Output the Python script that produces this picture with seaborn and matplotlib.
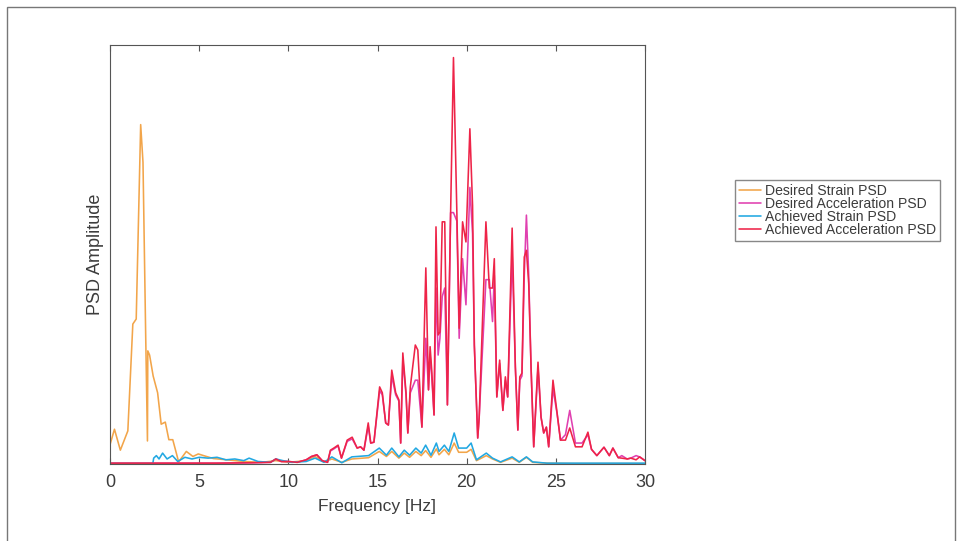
import matplotlib
matplotlib.use("Agg")
import matplotlib.pyplot as plt
from matplotlib.patches import Rectangle
import seaborn as sns

# desired strain PSD (orange)
ds_freq = [0.0, 0.25, 0.58, 1.0, 1.28, 1.47, 1.72, 1.85, 2.0, 2.1, 2.12, 2.22, 2.42, 2.67,
           2.87, 3.1, 3.3, 3.52, 3.85, 4.28, 4.65, 4.95, 5.25, 5.8, 6.55, 7.5, 8.5, 9.3,
           10.0, 11.0, 11.5, 12.0, 12.44, 13.0, 13.56, 14.5, 15.1, 15.5, 15.8, 16.2, 16.5,
           16.8, 17.15, 17.45, 17.7, 18.0, 18.3, 18.45, 18.75, 19.0, 19.3, 19.55, 20.0,
           20.25, 20.55, 21.1, 21.45, 21.9, 22.55, 22.95, 23.35, 23.7, 24.5, 26.0, 28.0, 30.0]
ds_vals = [0.046, 0.083, 0.033, 0.079, 0.334, 0.346, 0.81, 0.72, 0.31, 0.055, 0.27, 0.26,
           0.21, 0.17, 0.095, 0.10, 0.058, 0.058, 0.005, 0.03, 0.018, 0.024, 0.02, 0.013,
           0.01, 0.006, 0.004, 0.008, 0.004, 0.008, 0.018, 0.005, 0.012, 0.004, 0.012,
           0.015, 0.03, 0.018, 0.03, 0.014, 0.026, 0.016, 0.03, 0.02, 0.032, 0.016, 0.036,
           0.022, 0.035, 0.022, 0.05, 0.028, 0.028, 0.035, 0.008, 0.02, 0.012, 0.004,
           0.014, 0.004, 0.016, 0.004, 0.002, 0.001, 0.001, 0.001]

# achieved strain PSD (blue)
as_freq = [0.0, 2.4, 2.45, 2.6, 2.75, 2.95, 3.2, 3.5, 3.8, 4.2, 4.6, 5.0, 5.5, 6.0, 6.5,
           7.0, 7.5, 7.8, 8.3, 9.0, 9.3, 9.7, 10.2, 11.0, 11.5, 12.0, 12.44, 13.0, 13.56,
           14.5, 15.1, 15.5, 15.8, 16.2, 16.5, 16.8, 17.15, 17.45, 17.7, 18.0, 18.3, 18.45,
           18.75, 19.0, 19.3, 19.55, 20.0, 20.25, 20.55, 21.1, 21.45, 21.9, 22.55, 22.95,
           23.35, 23.7, 24.5, 26.0, 28.0, 30.0]
as_vals = [0.001, 0.001, 0.014, 0.02, 0.012, 0.026, 0.012, 0.02, 0.006, 0.016, 0.012,
           0.016, 0.014, 0.016, 0.01, 0.012, 0.008, 0.014, 0.006, 0.004, 0.012, 0.008,
           0.004, 0.006, 0.014, 0.004, 0.017, 0.003, 0.017, 0.02, 0.038, 0.021, 0.038,
           0.017, 0.033, 0.021, 0.038, 0.026, 0.045, 0.021, 0.05, 0.03, 0.045, 0.03, 0.074,
           0.038, 0.038, 0.05, 0.01, 0.026, 0.014, 0.005, 0.017, 0.005, 0.017, 0.005,
           0.002, 0.002, 0.002, 0.002]

# acceleration PSD, achieved (red) and desired (magenta)
acc_freq = [0, 2, 4, 6, 8, 9.0, 9.3, 9.6, 10.0, 10.5,
            11.0, 11.3, 11.6, 11.9, 12.2, 12.36, 12.55, 12.79, 12.98, 13.3,
            13.58, 13.86, 14.05, 14.24, 14.48, 14.62, 14.8, 15.12, 15.27, 15.46,
            15.61, 15.8, 16.02, 16.2, 16.3, 16.42, 16.6, 16.7, 16.84, 17.12,
            17.26, 17.49, 17.71, 17.86, 17.95, 18.04, 18.17, 18.28, 18.4, 18.5,
            18.63, 18.77, 18.92, 19.1, 19.26, 19.45, 19.58, 19.77, 19.96, 20.18,
            20.33, 20.43, 20.62, 20.7, 21.08, 21.27, 21.45, 21.55, 21.69, 21.85,
            22.03, 22.17, 22.3, 22.55, 22.73, 22.87, 22.98, 23.1, 23.23, 23.35,
            23.48, 23.61, 23.76, 24.0, 24.17, 24.32, 24.47, 24.6, 24.84, 25.07,
            25.26, 25.54, 25.78, 26.1, 26.47, 26.8, 27.0, 27.3, 27.7, 28.0,
            28.2, 28.5, 28.7, 29.0, 29.2, 29.5, 29.7, 30]
acc_achieved = [0.002, 0.002, 0.002, 0.002, 0.003, 0.004, 0.012, 0.006, 0.006, 0.004,
                0.01, 0.018, 0.022, 0.008, 0.004, 0.033, 0.038, 0.045, 0.014, 0.057,
                0.064, 0.038, 0.041, 0.033, 0.098, 0.05, 0.052, 0.184, 0.17, 0.098,
                0.093, 0.224, 0.17, 0.153, 0.05, 0.265, 0.17, 0.074, 0.184, 0.284,
                0.272, 0.088, 0.468, 0.177, 0.28, 0.224, 0.117, 0.566, 0.308, 0.315,
                0.578, 0.578, 0.141, 0.60, 0.97, 0.60, 0.324, 0.578, 0.53, 0.80,
                0.617, 0.284, 0.062, 0.11, 0.578, 0.42, 0.42, 0.49, 0.16, 0.248,
                0.128, 0.208, 0.16, 0.563, 0.232, 0.081, 0.208, 0.217, 0.494, 0.51,
                0.43, 0.232, 0.041, 0.243, 0.112, 0.074, 0.088, 0.041, 0.2, 0.122,
                0.057, 0.057, 0.086, 0.041, 0.041, 0.076, 0.035, 0.02, 0.04, 0.02,
                0.038, 0.015, 0.014, 0.012, 0.014, 0.01, 0.017, 0.008]
acc_desired = [0.002, 0.002, 0.002, 0.002, 0.003, 0.004, 0.012, 0.006, 0.006, 0.004,
               0.01, 0.018, 0.022, 0.008, 0.004, 0.031, 0.036, 0.043, 0.014, 0.054,
               0.06, 0.038, 0.041, 0.033, 0.09, 0.05, 0.052, 0.175, 0.165, 0.098,
               0.093, 0.21, 0.165, 0.15, 0.05, 0.25, 0.165, 0.074, 0.17, 0.2,
               0.2, 0.088, 0.3, 0.177, 0.26, 0.21, 0.117, 0.42, 0.26, 0.3,
               0.40, 0.42, 0.141, 0.60, 0.60, 0.58, 0.3, 0.49, 0.38, 0.66,
               0.55, 0.284, 0.062, 0.11, 0.44, 0.44, 0.34, 0.45, 0.16, 0.24,
               0.128, 0.2, 0.16, 0.50, 0.232, 0.081, 0.2, 0.21, 0.45, 0.594,
               0.45, 0.232, 0.041, 0.23, 0.112, 0.074, 0.088, 0.041, 0.18, 0.12,
               0.057, 0.07, 0.128, 0.05, 0.05, 0.07, 0.035, 0.02, 0.04, 0.02,
               0.038, 0.015, 0.02, 0.012, 0.014, 0.02, 0.017, 0.008]

series = [
    ("Desired Strain PSD", ds_freq, ds_vals, "#f2a54a"),
    ("Desired Acceleration PSD", acc_freq, acc_desired, "#e040b0"),
    ("Achieved Strain PSD", as_freq, as_vals, "#22a8e2"),
    ("Achieved Acceleration PSD", acc_freq, acc_achieved, "#ee2448"),
]

sns.set_theme(style="white")
plt.rcParams["font.family"] = ["Liberation Sans", "DejaVu Sans"]
text_col = "#3c3c3c"

fig = plt.figure(figsize=(9.59, 5.41), dpi=100)
ax = fig.add_axes([110 / 959, 1 - 464 / 541, 535 / 959, 419 / 541])

for name, fx, fy, col in series:
    sns.lineplot(x=fx, y=fy, ax=ax, color=col, linewidth=1.15, label=name,
                 estimator=None, sort=False)

ax.set_xlim(0, 30)
ax.set_ylim(0, 1.0)
ax.set_xticks([0, 5, 10, 15, 20, 25, 30])
ax.set_yticks([])
ax.tick_params(axis="x", direction="in", top=True, bottom=True, length=4, width=0.8,
               labelsize=13, pad=7, colors="#555555", labelcolor=text_col)
for sp in ax.spines.values():
    sp.set_color("#555555")
    sp.set_linewidth(0.8)

ax.set_xlabel("Frequency [Hz]", fontsize=12.5, color=text_col, labelpad=6)
ax.set_ylabel("PSD Amplitude", fontsize=13, color=text_col, labelpad=4)

ax.legend(loc="upper left", bbox_to_anchor=(735 / 959, 1 - 180 / 541),
          bbox_transform=fig.transFigure, fontsize=10.1, frameon=True, fancybox=False,
          edgecolor="#888888", framealpha=1, labelspacing=-0.05, handlelength=1.6,
          handletextpad=0.3, borderpad=0.25, borderaxespad=0, labelcolor=text_col)

# outer frame of the scanned figure
fig.add_artist(Rectangle((7 / 959, -0.05), 948 / 959, 1 - 7 / 541 + 0.05,
                         transform=fig.transFigure, fill=False, edgecolor="#777777",
                         linewidth=1.0))

fig.savefig("out.png", dpi=100)
